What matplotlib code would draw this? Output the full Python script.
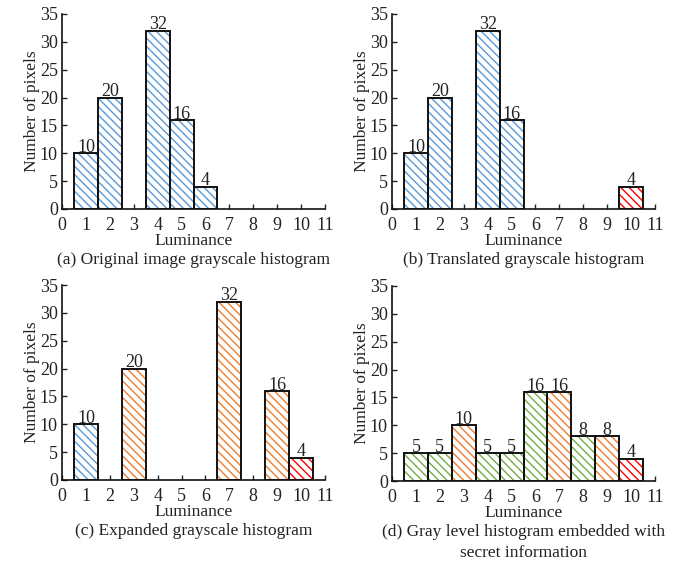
import matplotlib
matplotlib.use("Agg")
import matplotlib.pyplot as plt

plt.rcParams["font.family"] = ["Liberation Serif", "DejaVu Serif"]
plt.rcParams["hatch.linewidth"] = 1.0

# Luminance levels, pixel counts and the kind of each bar, per panel.
LUM_A = [1, 2, 4, 5, 6]
CNT_A = [10, 20, 32, 16, 4]
KIND_A = ["orig", "orig", "orig", "orig", "orig"]

LUM_B = [1, 2, 4, 5, 10]
CNT_B = [10, 20, 32, 16, 4]
KIND_B = ["orig", "orig", "orig", "orig", "shift"]

LUM_C = [1, 3, 7, 9, 10]
CNT_C = [10, 20, 32, 16, 4]
KIND_C = ["orig", "expand", "expand", "expand", "shift"]

LUM_D = [1, 2, 3, 4, 5, 6, 7, 8, 9, 10]
CNT_D = [5, 5, 10, 5, 5, 16, 16, 8, 8, 4]
KIND_D = ["embed", "embed", "expand", "embed", "embed",
          "embed", "expand", "embed", "expand", "shift"]

CAPTIONS = [
    "(a) Original image grayscale histogram",
    "(b) Translated grayscale histogram",
    "(c) Expanded grayscale histogram",
    "(d) Gray level histogram embedded with\nsecret information",
]

KIND_COLORS = {
    "orig": "#5B9BD5",
    "shift": "#FF0000",
    "expand": "#ED7D31",
    "embed": "#70AD47",
}

FS = 12.5
FS_TICK = 13

W, H = 685, 567
fig = plt.figure(figsize=(W / 100, H / 100), dpi=100)


def px_axes(left, right, top, bottom):
    return fig.add_axes([left / W, 1 - bottom / H, (right - left) / W, (bottom - top) / H])


axes = [
    px_axes(62, 325, 14, 209),
    px_axes(392, 655, 14, 209),
    px_axes(62, 325, 285, 480),
    px_axes(392, 655, 286, 481),
]

panels = [
    (LUM_A, CNT_A, KIND_A),
    (LUM_B, CNT_B, KIND_B),
    (LUM_C, CNT_C, KIND_C),
    (LUM_D, CNT_D, KIND_D),
]

for ax, (lum, cnt, kind), caption in zip(axes, panels, CAPTIONS):
    colors = [KIND_COLORS[k] for k in kind]
    # hatch layer, then black outline on top
    ax.bar(lum, cnt, width=1.0, color="white", edgecolor=colors,
           hatch="\\\\\\\\", linewidth=0, zorder=2)
    bars = ax.bar(lum, cnt, width=1.0, fill=False, edgecolor="#111111",
                  linewidth=1.4, zorder=3)
    for bar, v in zip(bars, cnt):
        ax.annotate(str(v), (bar.get_x() + bar.get_width() / 2, bar.get_height()),
                    textcoords="offset points", xytext=(0, -2),
                    ha="center", va="bottom", fontsize=FS_TICK, color="#222222")

    ax.set_xlim(0, 11)
    ax.set_ylim(0, 35)
    ax.set_xticks(range(0, 12))
    ax.set_yticks(range(0, 36, 5))
    ax.tick_params(direction="in", length=3.5, width=1.0, labelsize=FS_TICK,
                   colors="#222222")
    ax.tick_params(axis="x", pad=6)
    ax.tick_params(axis="y", pad=3)
    for side in ("top", "right"):
        ax.spines[side].set_visible(False)
    for side in ("left", "bottom"):
        ax.spines[side].set_linewidth(1.2)
        ax.spines[side].set_color("#111111")

    ax.set_xlabel("Luminance", fontsize=FS, labelpad=-1, color="#222222")
    ax.set_ylabel("Number of pixels", fontsize=FS, labelpad=0, color="#222222")
    ax.text(0.5, -0.22, caption, transform=ax.transAxes, ha="center", va="top",
            fontsize=FS, color="#222222", linespacing=1.45)

fig.savefig("out.png", dpi=100)
